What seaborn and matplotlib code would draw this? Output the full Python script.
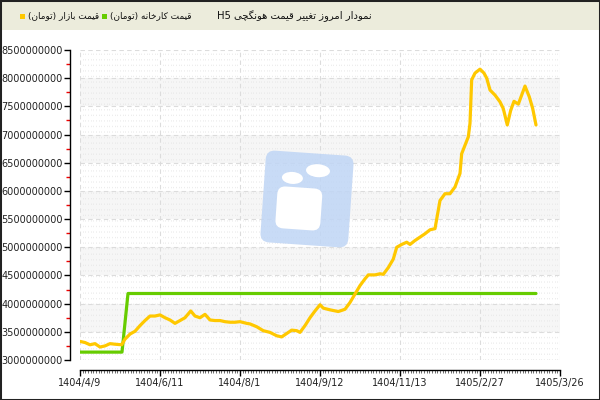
import numpy as np
import pandas as pd
import matplotlib
matplotlib.use("Agg")
import matplotlib.pyplot as plt
import seaborn as sns
from matplotlib.patches import Rectangle, FancyBboxPatch, Ellipse
from matplotlib.ticker import MultipleLocator, FuncFormatter, FixedLocator
from matplotlib.transforms import Affine2D

# --- data (x in tick-interval units, y in billions of toman) ---
tick_labels = ['1404/4/9', '1404/6/11', '1404/8/1', '1404/9/12',
               '1404/11/13', '1405/2/27', '1405/3/26']

market_x = [0, 0.0625, 0.125, 0.1875, 0.25, 0.3125, 0.375, 0.4375, 0.521, 0.5625,
            0.625, 0.6875, 0.75, 0.8125, 0.875, 0.9375, 1.0, 1.0625, 1.125, 1.1875,
            1.25, 1.3125, 1.384, 1.4375, 1.5, 1.5625, 1.625, 1.6875, 1.75, 1.8125,
            1.875, 1.9375, 2.0, 2.084, 2.125, 2.209, 2.291, 2.375, 2.459, 2.521,
            2.584, 2.646, 2.709, 2.75, 2.8125, 2.875, 2.9375, 3.0, 3.041, 3.125,
            3.229, 3.3125, 3.375, 3.4375, 3.5, 3.5625, 3.604, 3.6875, 3.75, 3.791,
            3.854, 3.916, 3.959, 4.021, 4.084, 4.125, 4.1875, 4.25, 4.3125, 4.375,
            4.4375, 4.5, 4.5625, 4.625, 4.6875, 4.75, 4.771, 4.8125, 4.854, 4.875,
            4.896, 4.9375, 5.0, 5.05, 5.084, 5.125, 5.1875, 5.25, 5.291, 5.341,
            5.384, 5.425, 5.479, 5.521, 5.5625, 5.616, 5.659, 5.7]
market_y = [3.33, 3.31, 3.27, 3.29, 3.23, 3.25, 3.29, 3.28, 3.27, 3.37,
            3.46, 3.51, 3.61, 3.70, 3.78, 3.78, 3.80, 3.75, 3.71, 3.65,
            3.70, 3.75, 3.87, 3.78, 3.75, 3.81, 3.71, 3.70, 3.70, 3.68,
            3.67, 3.67, 3.68, 3.65, 3.64, 3.59, 3.52, 3.49, 3.43, 3.41,
            3.47, 3.53, 3.52, 3.49, 3.61, 3.75, 3.87, 3.98, 3.92, 3.89,
            3.86, 3.90, 4.02, 4.17, 4.32, 4.44, 4.51, 4.51, 4.53, 4.52,
            4.64, 4.79, 5.00, 5.05, 5.09, 5.05, 5.12, 5.18, 5.24, 5.31,
            5.33, 5.83, 5.95, 5.95, 6.07, 6.31, 6.66, 6.81, 6.96, 7.20,
            7.97, 8.09, 8.16, 8.09, 8.00, 7.79, 7.70, 7.58, 7.46, 7.17,
            7.43, 7.59, 7.54, 7.70, 7.86, 7.67, 7.46, 7.17]

factory_x = [0, 0.525, 0.6, 5.7]
factory_y = [3.14, 3.14, 4.18, 4.18]

title_text = 'نمودار امروز تغییر قیمت هونگچی H5'
factory_label = 'قیمت کارخانه (تومان)'
market_label = 'قیمت بازار (تومان)'

YELLOW = '#ffc800'
GREEN = '#66cc00'

# --- minimal persian shaping (no reshaper lib available) ---
FORMS = {
    'ا': ('\ufe8d', '\ufe8e', None, None),
    'ب': ('\ufe8f', '\ufe90', '\ufe91', '\ufe92'),
    'ت': ('\ufe95', '\ufe96', '\ufe97', '\ufe98'),
    'خ': ('\ufea5', '\ufea6', '\ufea7', '\ufea8'),
    'د': ('\ufea9', '\ufeaa', None, None),
    'ر': ('\ufead', '\ufeae', None, None),
    'ز': ('\ufeaf', '\ufeb0', None, None),
    'غ': ('\ufecd', '\ufece', '\ufecf', '\ufed0'),
    'ق': ('\ufed5', '\ufed6', '\ufed7', '\ufed8'),
    'م': ('\ufee1', '\ufee2', '\ufee3', '\ufee4'),
    'ن': ('\ufee5', '\ufee6', '\ufee7', '\ufee8'),
    'ه': ('\ufee9', '\ufeea', '\ufeeb', '\ufeec'),
    'و': ('\ufeed', '\ufeee', None, None),
    'ی': ('\ufbfc', '\ufbfd', '\ufbfe', '\ufbff'),
    'ک': ('\ufb8e', '\ufb8f', '\ufb90', '\ufb91'),
    'گ': ('\ufb92', '\ufb93', '\ufb94', '\ufb95'),
    'چ': ('\ufb7a', '\ufb7b', '\ufb7c', '\ufb7d'),
}


def shape(word):
    out = []
    for i, ch in enumerate(word):
        if ch not in FORMS:
            out.append(ch)
            continue
        prev = word[i - 1] if i > 0 else None
        nxt = word[i + 1] if i + 1 < len(word) else None
        jp = prev in FORMS and FORMS[prev][2] is not None
        jn = FORMS[ch][2] is not None and nxt in FORMS
        iso, fin, ini, med = FORMS[ch]
        out.append(med if (jp and jn) else fin if jp else ini if jn else iso)
    return ''.join(out)


def rtl(text):
    vis = []
    for w in text.split(' '):
        if any(c in FORMS for c in w):
            vis.append(shape(w)[::-1].translate(str.maketrans('()', ')(')))
        else:
            vis.append(w)
    return ' '.join(reversed(vis))


df = pd.concat([
    pd.DataFrame({'x': factory_x, 'price': np.array(factory_y) * 1e9, 'series': 'factory'}),
    pd.DataFrame({'x': market_x, 'price': np.array(market_y) * 1e9, 'series': 'market'}),
])

sns.set_style('white')
plt.rcParams['font.family'] = ['DejaVu Sans']

fig = plt.figure(figsize=(6, 4), dpi=100)
fig.patch.set_facecolor('white')
ax = fig.add_axes([80 / 600, 40 / 400, 480 / 600, 310 / 400])

# alternating light bands
for lo in [3.5e9, 4.5e9, 5.5e9, 6.5e9, 7.5e9]:
    ax.axhspan(lo, lo + 5e8, color='#f6f6f6', zorder=0, lw=0)

sns.lineplot(data=df, x='x', y='price', hue='series', palette={'factory': GREEN, 'market': YELLOW},
             linewidth=2.3, legend=False, ax=ax, zorder=5, estimator=None, sort=False)

ax.set_xlim(0, 6)
ax.set_ylim(3e9, 8.5e9)
ax.set_xlabel('')
ax.set_ylabel('')

ax.xaxis.set_major_locator(FixedLocator(range(7)))
ax.set_xticklabels(tick_labels)
ax.xaxis.set_minor_locator(MultipleLocator(1 / 30))
ax.yaxis.set_major_locator(MultipleLocator(5e8))
ax.yaxis.set_minor_locator(MultipleLocator(2.5e8))
ax.yaxis.set_major_formatter(FuncFormatter(lambda v, p: f'{v:.0f}'))

ax.grid(which='major', color='#dcdcdc', linestyle=(0, (4, 3)), linewidth=0.8, zorder=1)
ax.grid(which='minor', axis='x', color='#e6e6e6', linestyle=(0, (2, 6)), linewidth=0.5, zorder=1)

for s in ['top', 'right']:
    ax.spines[s].set_visible(False)
ax.spines['left'].set_position(('outward', 7.2))
ax.spines['bottom'].set_position(('outward', 7.2))
for s in ['left', 'bottom']:
    ax.spines[s].set_color('black')
    ax.spines[s].set_linewidth(1.0)

ax.tick_params(axis='y', which='major', length=4, width=1, color='black', labelsize=7,
               labelcolor='#222222', pad=1, left=True)
ax.tick_params(axis='y', which='minor', length=3, width=1, color='#ee0000', left=True)
ax.tick_params(axis='x', which='major', length=4, width=1, color='black', labelsize=7,
               labelcolor='#222222', pad=2, bottom=True)
ax.tick_params(axis='x', which='minor', length=2, width=0.6, color='#555555', bottom=True)

# watermark logo
rot = Affine2D().rotate_deg_around(307, 201, -4)
logo = FancyBboxPatch((263, 155), 88, 92, boxstyle='round,pad=0,rounding_size=9',
                      facecolor='#bfd5f5', edgecolor='none', alpha=0.85,
                      transform=rot, zorder=3)
fig.add_artist(logo)
body = FancyBboxPatch((277, 170), 45, 42, boxstyle='round,pad=0,rounding_size=8',
                      facecolor='white', edgecolor='none', transform=rot, zorder=3)
fig.add_artist(body)
fig.add_artist(Ellipse((291, 221), 21, 12, facecolor='white', edgecolor='none', transform=rot, zorder=3))
fig.add_artist(Ellipse((316, 230), 24, 13, facecolor='white', edgecolor='none', transform=rot, zorder=3))

# header band
fig.add_artist(Rectangle((0, 1 - 30 / 400), 1, 30 / 400, transform=fig.transFigure,
                         facecolor='#ececdc', edgecolor='none', zorder=0))
fig.text(372 / 600, 1 - 16 / 400, rtl(title_text), ha='right', va='center', fontsize=7.2, color='#111111')
fig.add_artist(Rectangle((102 / 600, 1 - 19 / 400), 5 / 600, 5 / 400, transform=fig.transFigure,
                         facecolor=GREEN, edgecolor='none'))
fig.text(110 / 600, 1 - 16 / 400, rtl(factory_label), ha='left', va='center', fontsize=6.4, color='#111111')
fig.add_artist(Rectangle((20 / 600, 1 - 19 / 400), 5 / 600, 5 / 400, transform=fig.transFigure,
                         facecolor=YELLOW, edgecolor='none'))
fig.text(28 / 600, 1 - 16 / 400, rtl(market_label), ha='left', va='center', fontsize=6.4, color='#111111')

# outer frame
fig.add_artist(Rectangle((0, 0), 1, 1, transform=fig.transFigure, fill=False,
                         edgecolor='#222222', linewidth=2.2, zorder=10))

fig.savefig('out.png', dpi=100)
